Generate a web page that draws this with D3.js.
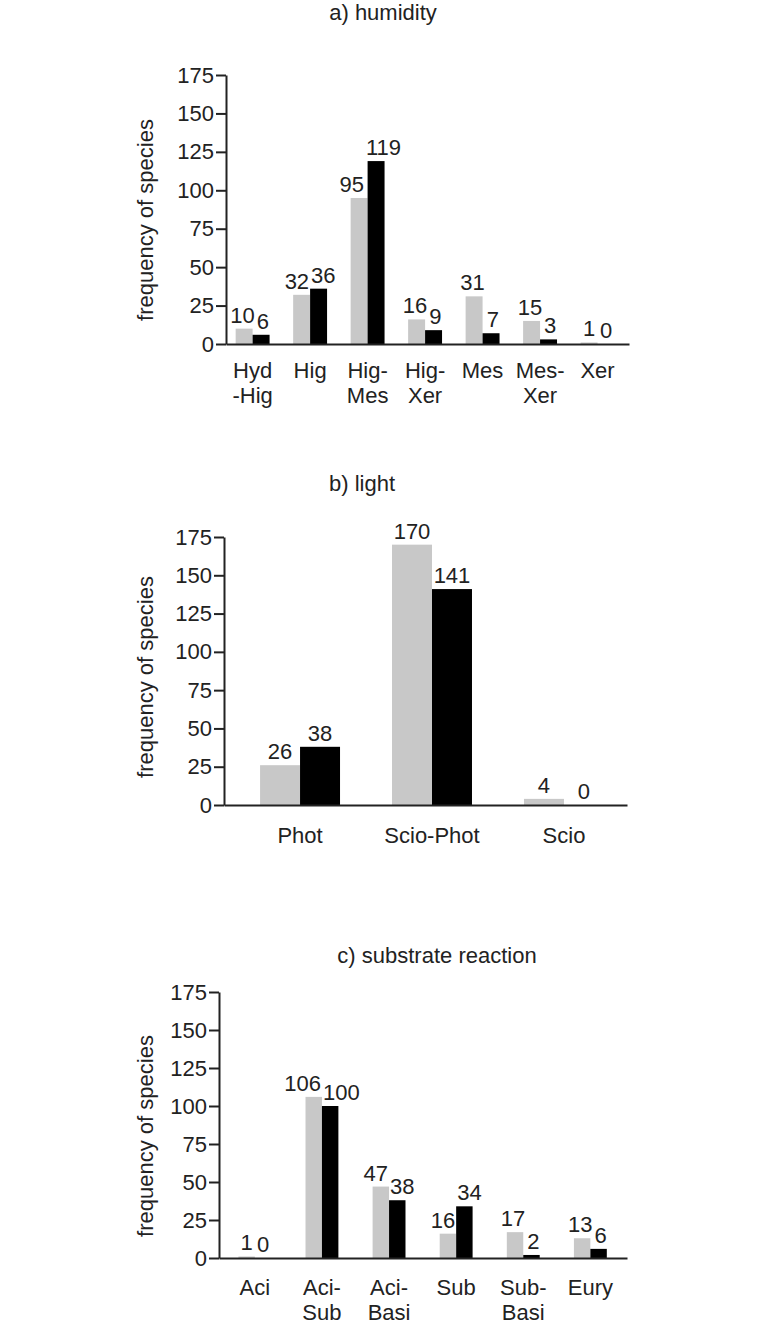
<!DOCTYPE html>
<html>
<head>
<meta charset="utf-8">
<script src="https://cdn.jsdelivr.net/npm/d3@7"></script>
<style>
  body { margin: 0; background: #fff; }
  svg { display: block; }
  text { font-family: "Liberation Sans", Arial, sans-serif; fill: #222; }
</style>
</head>
<body>
<svg id="chart" width="766" height="1326"></svg>
<script>
// ---------- DATA ----------
const yTicks = [0, 25, 50, 75, 100, 125, 150, 175];
const yLabel = "frequency of species";

const humidityTitle = "a) humidity";
const humidityCategories = [["Hyd", "-Hig"], ["Hig"], ["Hig-", "Mes"], ["Hig-", "Xer"], ["Mes"], ["Mes-", "Xer"], ["Xer"]];
const humidityGray  = [10, 32, 95, 16, 31, 15, 1];
const humidityBlack = [6, 36, 119, 9, 7, 3, 0];

const lightTitle = "b) light";
const lightCategories = [["Phot"], ["Scio-Phot"], ["Scio"]];
const lightGray  = [26, 170, 4];
const lightBlack = [38, 141, 0];

const substrateTitle = "c) substrate reaction";
const substrateCategories = [["Aci"], ["Aci-", "Sub"], ["Aci-", "Basi"], ["Sub"], ["Sub-", "Basi"], ["Eury"]];
const substrateGray  = [1, 106, 47, 16, 17, 13];
const substrateBlack = [0, 100, 38, 34, 2, 6];

const seriesKeys = ["gray", "black"];
const seriesColors = ["#c8c8c8", "#000000"];

// ---------- LAYOUT ----------
const panels = [
  { title: humidityTitle, cats: humidityCategories, gray: humidityGray, black: humidityBlack,
    x0: 226, x1: 629, yTop: 75, yBottom: 344, pi: 0.41, po: 0.21, align: 0.4,
    titleX: 383, titleY: 20, yLabelY: 220, catY: 34 },
  { title: lightTitle, cats: lightCategories, gray: lightGray, black: lightBlack,
    x0: 224, x1: 627, yTop: 537, yBottom: 805, pi: 0.394, po: 0.224, align: 0.61,
    titleX: 362, titleY: 491, yLabelY: 677, catY: 38 },
  { title: substrateTitle, cats: substrateCategories, gray: substrateGray, black: substrateBlack,
    x0: 219, x1: 627, yTop: 992, yBottom: 1258, pi: 0.51, po: 0.295, align: 0.49,
    titleX: 437, titleY: 963, yLabelY: 1136, catY: 37 }
];

const svg = d3.select("#chart");
const FS = 22;

panels.forEach(p => {
  const g = svg.append("g");
  const keys = p.cats.map(c => c.join(" "));
  const x = d3.scaleBand().domain(keys).range([p.x0, p.x1])
    .paddingInner(p.pi).paddingOuter(p.po).align(p.align);
  const xs = d3.scaleBand().domain(seriesKeys).range([0, x.bandwidth()]).padding(0);
  const y = d3.scaleLinear().domain([0, 175]).range([p.yBottom, p.yTop]);

  // title
  g.append("text").attr("x", p.titleX).attr("y", p.titleY)
    .attr("text-anchor", "middle").style("font-size", FS + "px").text(p.title);

  // y label
  g.append("text")
    .attr("transform", `translate(145,${p.yLabelY}) rotate(-90)`)
    .attr("text-anchor", "middle").attr("dominant-baseline", "central")
    .style("font-size", FS + "px").text(yLabel);

  // bars
  const rows = keys.map((k, i) => ({ key: k, vals: [p.gray[i], p.black[i]] }));
  const grp = g.selectAll(".grp").data(rows).join("g")
    .attr("transform", d => `translate(${x(d.key)},0)`);
  grp.selectAll("rect").data(d => d.vals.map((v, j) => ({ k: seriesKeys[j], v, c: seriesColors[j] })))
    .join("rect")
    .attr("x", d => xs(d.k)).attr("width", xs.bandwidth())
    .attr("y", d => y(d.v)).attr("height", d => y(0) - y(d.v))
    .attr("fill", d => d.c);

  // value labels, pushed apart when they would touch
  grp.each(function (d) {
    const gg = d3.select(this);
    const items = d.vals.map((v, j) => ({ k: seriesKeys[j], v }));
    const t = gg.selectAll("text.val").data(items).join("text").attr("class", "val")
      .attr("x", e => xs(e.k) + xs.bandwidth() / 2)
      .attr("y", e => y(e.v) - 6)
      .attr("text-anchor", "middle").style("font-size", FS + "px")
      .text(e => e.v);
    const nodes = t.nodes();
    const w0 = nodes[0].getComputedTextLength(), w1 = nodes[1].getComputedTextLength();
    const c0 = xs(seriesKeys[0]) + xs.bandwidth() / 2, c1 = xs(seriesKeys[1]) + xs.bandwidth() / 2;
    const gap = (c1 - w1 / 2) - (c0 + w0 / 2);
    if (gap < 2) {
      const shift = (2 - gap) / 2;
      d3.select(nodes[0]).attr("x", c0 - shift);
      d3.select(nodes[1]).attr("x", c1 + shift);
    }
  });

  // y axis
  const ya = g.append("g").attr("transform", `translate(${p.x0},0)`)
    .call(d3.axisLeft(y).tickValues(yTicks).tickSize(10).tickSizeOuter(0).tickPadding(2));
  ya.selectAll("path, line").attr("stroke", "#222").attr("stroke-width", 2);
  ya.selectAll("text").style("font-size", FS + "px").style("font-family", "Liberation Sans, Arial, sans-serif").attr("fill", "#222");

  // x axis
  const xa = g.append("g").attr("transform", `translate(0,${p.yBottom})`)
    .call(d3.axisBottom(x).tickSize(0).tickSizeOuter(0).tickFormat(""));
  xa.select(".domain").attr("stroke", "#222").attr("stroke-width", 2);

  // category labels
  const cl = g.selectAll(".cat").data(p.cats).join("text").attr("class", "cat")
    .attr("text-anchor", "middle").style("font-size", FS + "px")
    .attr("transform", (d, i) => `translate(${x(keys[i]) + x.bandwidth() / 2},${p.yBottom + p.catY})`);
  cl.selectAll("tspan").data(d => d).join("tspan")
    .attr("x", 0).attr("dy", (d, i) => i === 0 ? 0 : 25).text(d => d);
});
</script>
</body>
</html>
